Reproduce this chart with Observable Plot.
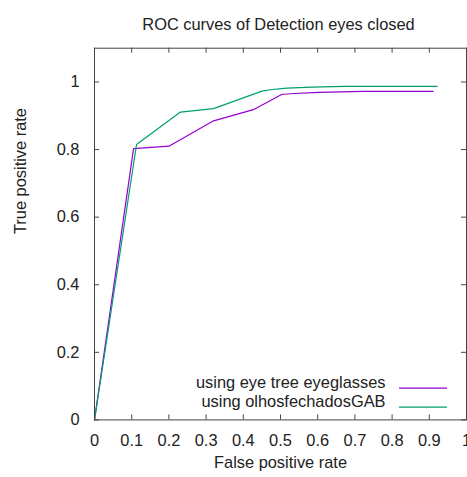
<!DOCTYPE html>
<html><head><meta charset="utf-8">
<script src="https://cdn.jsdelivr.net/npm/d3@7"></script>
<script src="https://cdn.jsdelivr.net/npm/@observablehq/plot@0.6"></script>
<style>body{margin:0;background:#fff}</style>
</head><body><div id="chart"></div>
<script>
const title = "ROC curves of Detection eyes closed";
const xLabel = "False positive rate";
const yLabel = "True positive rate";
const seriesNames = ["using eye tree eyeglasses", "using olhosfechadosGAB"];
const seriesColors = ["#9400d3", "#009e73"];
const fprEyeTree = [0, 0.105, 0.2, 0.32, 0.427, 0.503, 0.535, 0.602, 0.723, 0.91];
const tprEyeTree = [0, 0.803, 0.81, 0.885, 0.918, 0.963, 0.966, 0.969, 0.972, 0.972];
const fprGAB = [0, 0.113, 0.231, 0.32, 0.45, 0.472, 0.517, 0.584, 0.673, 0.921];
const tprGAB = [0, 0.815, 0.911, 0.921, 0.973, 0.977, 0.982, 0.985, 0.987, 0.987];
const xTicks = [0, 0.1, 0.2, 0.3, 0.4, 0.5, 0.6, 0.7, 0.8, 0.9, 1];
const yTicks = [0, 0.2, 0.4, 0.6, 0.8, 1];

const W = 467, H = 477;
const mL = 94, mR = 1, mT = 47.7, mB = 57.6;
const innerW = W - mL - mR, innerH = H - mT - mB;
const font = "Liberation Sans, Arial, sans-serif";
const fs = 16.4;
const ink = "#222";

const data = [
  ...fprEyeTree.map((x, i) => ({x, y: tprEyeTree[i], s: seriesNames[0]})),
  ...fprGAB.map((x, i) => ({x, y: tprGAB[i], s: seriesNames[1]}))
];

const legendMarks = seriesNames.flatMap((name, i) => {
  const dy = -31.7 + i * 19;
  return [
    Plot.text([name], {frameAnchor: "bottom-right", text: d => d, textAnchor: "end", dx: -81, dy, fontSize: fs, fill: ink}),
    Plot.tickY([0], {y: d => d, dy, insetLeft: 305, insetRight: 19, stroke: seriesColors[i], strokeWidth: 1.2})
  ];
});

const chart = Plot.plot({
  width: W, height: H,
  marginLeft: mL, marginRight: mR, marginTop: mT, marginBottom: mB,
  style: {fontFamily: font, fontSize: fs + "px", color: ink, background: "#fff"},
  x: {domain: [0, 1]},
  y: {domain: [0, 1.1]},
  color: {domain: seriesNames, range: seriesColors},
  marks: [
    Plot.axisX(xTicks, {tickSize: 0, tickPadding: 14, tickFormat: d => String(d), label: null, fontSize: fs, fill: ink}),
    Plot.axisY(yTicks, {tickSize: 0, tickPadding: 15, tickFormat: d => String(d), label: null, fontSize: fs, fill: ink}),
    Plot.tickX(xTicks, {x: d => d, insetTop: innerH - 5, stroke: "#444"}),
    Plot.tickX(xTicks, {x: d => d, insetBottom: innerH - 5, stroke: "#444"}),
    Plot.tickY(yTicks, {y: d => d, insetRight: innerW - 5, stroke: "#444"}),
    Plot.tickY(yTicks, {y: d => d, insetLeft: innerW - 5, stroke: "#444"}),
    Plot.line(data, {x: "x", y: "y", z: "s", stroke: "s", strokeWidth: 1.2}),
    ...legendMarks,
    Plot.frame({stroke: "#444"}),
    Plot.text([title], {frameAnchor: "top", dx: -2, dy: -30, fontSize: fs, fill: ink}),
    Plot.text([xLabel], {frameAnchor: "bottom", dy: 48.5, fontSize: fs, fill: ink}),
    Plot.text([yLabel], {frameAnchor: "left", dx: -74, rotate: -90, fontSize: fs, fill: ink})
  ]
});
document.getElementById("chart").append(chart);
</script></body></html>
